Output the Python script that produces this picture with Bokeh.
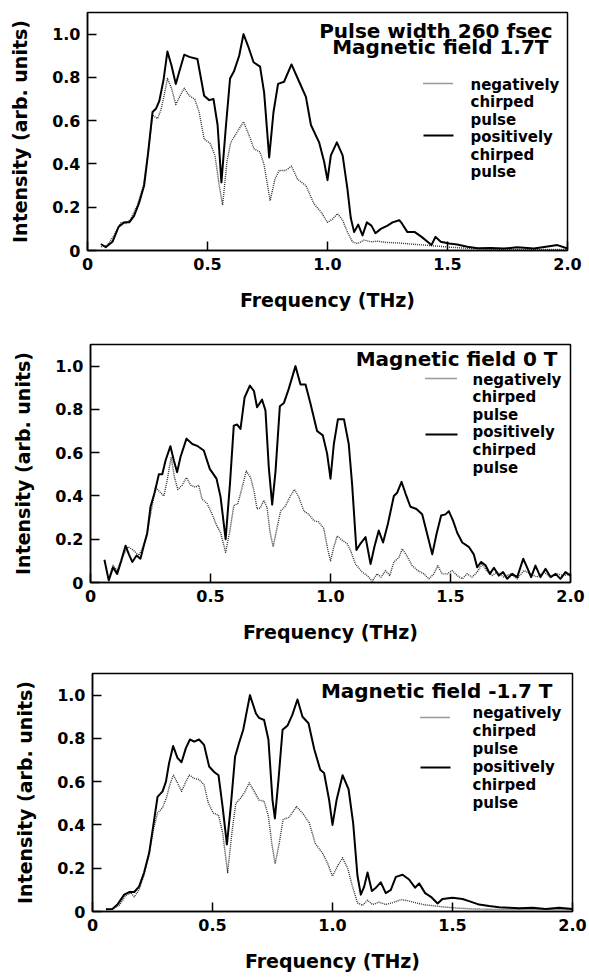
from bokeh.plotting import figure
from bokeh.layouts import column, row
from bokeh.models import Range1d, FixedTicker, Label, Arrow
from bokeh.embed import file_html
from bokeh.resources import INLINE

# ---------------- data ----------------
x_ticks = [0, 0.5, 1.0, 1.5, 2.0]
x_tick_labels = ["0", "0.5", "1.0", "1.5", "2.0"]
y_ticks = [0, 0.2, 0.4, 0.6, 0.8, 1.0]
y_tick_labels = ["0", "0.2", "0.4", "0.6", "0.8", "1.0"]

titles = [["Pulse width 260 fsec", "Magnetic field 1.7T"],
          ["Magnetic field 0 T"],
          ["Magnetic field -1.7 T"]]
neg_label = ["negatively", "chirped", "pulse"]
pos_label = ["positively", "chirped", "pulse"]

# Panel 1: 1.7 T
p1_pos_f = [0.056, 0.076, 0.104, 0.13, 0.153, 0.174, 0.194, 0.215, 0.236, 0.253, 0.271, 0.285, 0.299, 0.317, 0.333,
            0.35, 0.368, 0.382, 0.403, 0.424, 0.458, 0.486, 0.507, 0.525, 0.542, 0.558, 0.576, 0.594, 0.611, 0.632,
            0.65, 0.669, 0.692, 0.719, 0.736, 0.757, 0.775, 0.794, 0.819, 0.85, 0.882, 0.91, 0.931, 0.965, 0.986,
            1.0, 1.014, 1.039, 1.063, 1.083, 1.097, 1.111, 1.128, 1.146, 1.164, 1.183, 1.2, 1.222, 1.25, 1.271,
            1.299, 1.31, 1.333, 1.364, 1.392, 1.417, 1.433, 1.45, 1.472, 1.507, 1.54, 1.583, 1.625, 1.68, 1.736,
            1.79, 1.86, 1.924, 1.958, 2.0]
p1_pos_i = [0.03, 0.015, 0.04, 0.11, 0.13, 0.13, 0.16, 0.22, 0.30, 0.455, 0.64, 0.655, 0.69, 0.79, 0.92,
            0.855, 0.77, 0.825, 0.905, 0.895, 0.885, 0.715, 0.695, 0.70, 0.58, 0.315, 0.565, 0.795, 0.83, 0.90,
            1.0, 0.945, 0.87, 0.85, 0.73, 0.43, 0.64, 0.77, 0.78, 0.86, 0.78, 0.71, 0.58, 0.50, 0.41,
            0.325, 0.44, 0.50, 0.44, 0.285, 0.15, 0.085, 0.12, 0.07, 0.13, 0.115, 0.08, 0.10, 0.115, 0.13,
            0.14, 0.125, 0.085, 0.085, 0.063, 0.04, 0.025, 0.063, 0.04, 0.032, 0.028, 0.017, 0.01, 0.012, 0.009,
            0.015, 0.009, 0.02, 0.025, 0.009]
p1_neg_f = [0.056, 0.083, 0.111, 0.139, 0.16, 0.18, 0.208, 0.233, 0.253, 0.271, 0.292, 0.306, 0.319, 0.333, 0.35,
            0.368, 0.386, 0.403, 0.424, 0.447, 0.465, 0.486, 0.511, 0.531, 0.549, 0.563, 0.581, 0.597, 0.625, 0.65,
            0.674, 0.694, 0.719, 0.736, 0.761, 0.781, 0.799, 0.826, 0.85, 0.875, 0.91, 0.944, 0.972, 1.0,
            1.021, 1.042, 1.063, 1.083, 1.104, 1.125, 1.153, 1.181, 1.208, 1.25, 1.292, 1.347, 1.403, 1.458,
            1.514, 1.583, 1.694, 1.833, 2.0]
p1_neg_i = [0.017, 0.025, 0.07, 0.13, 0.125, 0.145, 0.21, 0.30, 0.455, 0.625, 0.61, 0.65, 0.715, 0.795, 0.75,
            0.675, 0.715, 0.75, 0.715, 0.70, 0.64, 0.515, 0.495, 0.44, 0.30, 0.21, 0.41, 0.50, 0.55, 0.595,
            0.53, 0.47, 0.455, 0.395, 0.23, 0.33, 0.37, 0.37, 0.39, 0.33, 0.30, 0.215, 0.18, 0.13,
            0.145, 0.17, 0.14, 0.085, 0.04, 0.032, 0.048, 0.04, 0.043, 0.037, 0.035, 0.03, 0.025, 0.02,
            0.015, 0.01, 0.006, 0.005, 0.005]

# Panel 2: 0 T
p2_pos_f = [0.058, 0.076, 0.094, 0.111, 0.128, 0.146, 0.16, 0.174, 0.192, 0.208, 0.222, 0.236, 0.25, 0.267, 0.285,
            0.299, 0.313, 0.333, 0.347, 0.361, 0.375, 0.4, 0.424, 0.447, 0.472, 0.497, 0.525, 0.542, 0.563, 0.581,
            0.597, 0.611, 0.625, 0.642, 0.664, 0.681, 0.694, 0.715, 0.729, 0.743, 0.757, 0.771, 0.789, 0.806, 0.826,
            0.854, 0.875, 0.896, 0.917, 0.944, 0.968, 0.986, 1.0, 1.014, 1.031, 1.056, 1.076, 1.09, 1.108, 1.125,
            1.146, 1.167, 1.183, 1.201, 1.219, 1.239, 1.264, 1.278, 1.296, 1.313, 1.333, 1.358, 1.382, 1.406, 1.424,
            1.442, 1.461, 1.479, 1.493, 1.511, 1.528, 1.549, 1.576, 1.597, 1.611, 1.628, 1.646, 1.664, 1.681, 1.701,
            1.719, 1.736, 1.757, 1.778, 1.803, 1.819, 1.836, 1.854, 1.875, 1.896, 1.917, 1.938, 1.958, 1.979, 2.0]
p2_pos_i = [0.105, 0.01, 0.07, 0.04, 0.10, 0.17, 0.13, 0.095, 0.125, 0.11, 0.17, 0.225, 0.35, 0.415, 0.50,
            0.50, 0.565, 0.63, 0.565, 0.51, 0.58, 0.665, 0.64, 0.63, 0.61, 0.525, 0.48, 0.395, 0.20, 0.455,
            0.725, 0.73, 0.71, 0.855, 0.91, 0.885, 0.81, 0.845, 0.795, 0.53, 0.36, 0.515, 0.815, 0.83, 0.895,
            1.0, 0.915, 0.915, 0.825, 0.70, 0.68, 0.595, 0.48, 0.64, 0.755, 0.755, 0.64, 0.455, 0.15, 0.18,
            0.21, 0.085, 0.165, 0.24, 0.185, 0.27, 0.40, 0.415, 0.465, 0.41, 0.35, 0.34, 0.315, 0.21, 0.13,
            0.225, 0.31, 0.315, 0.33, 0.285, 0.23, 0.185, 0.165, 0.13, 0.07, 0.095, 0.08, 0.04, 0.068, 0.032,
            0.048, 0.017, 0.04, 0.025, 0.11, 0.07, 0.025, 0.078, 0.025, 0.063, 0.025, 0.04, 0.017, 0.048, 0.032]
p2_neg_f = [0.076, 0.094, 0.111, 0.132, 0.156, 0.178, 0.201, 0.219, 0.236, 0.253, 0.271, 0.292, 0.306, 0.319, 0.336,
            0.35, 0.364, 0.382, 0.4, 0.417, 0.438, 0.451, 0.465, 0.486, 0.507, 0.525, 0.542, 0.563, 0.581, 0.597,
            0.614, 0.632, 0.649, 0.667, 0.681, 0.694, 0.708, 0.722, 0.736, 0.747, 0.761, 0.775, 0.792, 0.813, 0.833,
            0.85, 0.868, 0.889, 0.91, 0.931, 0.951, 0.972, 0.989, 1.0, 1.014, 1.028, 1.049, 1.069, 1.083, 1.104,
            1.132, 1.153, 1.174, 1.194, 1.211, 1.229, 1.247, 1.264, 1.285, 1.299, 1.317, 1.34, 1.364, 1.389, 1.41,
            1.431, 1.447, 1.465, 1.486, 1.507, 1.528, 1.549, 1.569, 1.59, 1.611, 1.632, 1.65, 1.674, 1.694, 1.722,
            1.75, 1.778, 1.806, 1.833, 1.861, 1.889, 1.917, 1.944, 1.972, 2.0]
p2_neg_i = [0.017, 0.08, 0.055, 0.115, 0.165, 0.15, 0.125, 0.165, 0.23, 0.33, 0.44, 0.415, 0.40, 0.47, 0.58,
            0.485, 0.43, 0.45, 0.485, 0.45, 0.44, 0.45, 0.385, 0.365, 0.315, 0.265, 0.23, 0.14, 0.24, 0.355,
            0.365, 0.44, 0.515, 0.485, 0.425, 0.34, 0.345, 0.38, 0.345, 0.24, 0.165, 0.24, 0.33, 0.355, 0.40,
            0.43, 0.395, 0.33, 0.315, 0.285, 0.28, 0.25, 0.15, 0.10, 0.165, 0.215, 0.195, 0.18, 0.15, 0.085,
            0.048, 0.032, 0.006, 0.04, 0.025, 0.055, 0.032, 0.095, 0.115, 0.155, 0.125, 0.078, 0.055, 0.04, 0.017,
            0.04, 0.078, 0.04, 0.04, 0.055, 0.032, 0.017, 0.04, 0.025, 0.048, 0.085, 0.055, 0.032, 0.048, 0.025,
            0.04, 0.017, 0.055, 0.04, 0.025, 0.048, 0.025, 0.04, 0.032, 0.04]

# Panel 3: -1.7 T
p3_pos_f = [0.056, 0.083, 0.104, 0.132, 0.153, 0.174, 0.194, 0.215, 0.236, 0.253, 0.271, 0.292, 0.306, 0.319, 0.336,
            0.354, 0.371, 0.389, 0.406, 0.424, 0.444, 0.465, 0.486, 0.507, 0.525, 0.542, 0.56, 0.576, 0.594, 0.611,
            0.628, 0.656, 0.681, 0.694, 0.715, 0.733, 0.75, 0.76, 0.775, 0.792, 0.813, 0.833, 0.854, 0.875, 0.9,
            0.924, 0.949, 0.965, 0.986, 1.0, 1.017, 1.042, 1.067, 1.086, 1.104, 1.118, 1.132, 1.146, 1.164, 1.181,
            1.201, 1.222, 1.243, 1.264, 1.292, 1.319, 1.344, 1.361, 1.386, 1.41, 1.438, 1.458, 1.5, 1.542, 1.569,
            1.611, 1.653, 1.694, 1.736, 1.778, 1.833, 1.889, 1.944, 2.0]
p3_pos_i = [0.01, 0.012, 0.032, 0.078, 0.09, 0.09, 0.115, 0.18, 0.27, 0.395, 0.53, 0.555, 0.60, 0.685, 0.765,
            0.71, 0.69, 0.755, 0.795, 0.785, 0.795, 0.77, 0.67, 0.645, 0.63, 0.485, 0.31, 0.485, 0.715, 0.78,
            0.84, 1.0, 0.915, 0.895, 0.885, 0.795, 0.515, 0.43, 0.61, 0.84, 0.86, 0.91, 0.98, 0.90, 0.87,
            0.75, 0.655, 0.64, 0.515, 0.40, 0.515, 0.63, 0.565, 0.41, 0.165, 0.078, 0.115, 0.18, 0.095, 0.11,
            0.135, 0.085, 0.10, 0.16, 0.17, 0.148, 0.11, 0.13, 0.085, 0.068, 0.037, 0.058, 0.063, 0.058, 0.048,
            0.032, 0.025, 0.02, 0.017, 0.015, 0.017, 0.012, 0.017, 0.012]
p3_neg_f = [0.056, 0.083, 0.111, 0.139, 0.16, 0.174, 0.194, 0.215, 0.236, 0.254, 0.271, 0.292, 0.308, 0.322, 0.337,
            0.354, 0.371, 0.389, 0.403, 0.424, 0.444, 0.465, 0.483, 0.503, 0.525, 0.542, 0.563, 0.581, 0.597, 0.618,
            0.636, 0.653, 0.674, 0.694, 0.715, 0.733, 0.747, 0.761, 0.778, 0.794, 0.819, 0.85, 0.875, 0.903, 0.928,
            0.958, 0.979, 1.0, 1.021, 1.042, 1.063, 1.083, 1.104, 1.125, 1.146, 1.167, 1.194, 1.222, 1.257, 1.285,
            1.313, 1.347, 1.389, 1.431, 1.472, 1.528, 1.583, 1.667, 1.778, 1.889, 2.0]
p3_neg_i = [0.01, 0.012, 0.028, 0.074, 0.086, 0.068, 0.10, 0.17, 0.265, 0.38, 0.455, 0.48, 0.525, 0.585, 0.63,
            0.595, 0.555, 0.60, 0.63, 0.615, 0.61, 0.585, 0.50, 0.455, 0.445, 0.365, 0.18, 0.365, 0.50, 0.525,
            0.555, 0.595, 0.555, 0.515, 0.51, 0.44, 0.315, 0.22, 0.315, 0.425, 0.435, 0.485, 0.455, 0.41, 0.315,
            0.27, 0.225, 0.163, 0.21, 0.248, 0.20, 0.117, 0.04, 0.028, 0.052, 0.032, 0.043, 0.032, 0.043, 0.055,
            0.05, 0.04, 0.03, 0.025, 0.02, 0.015, 0.012, 0.01, 0.01, 0.01, 0.01]

panels = [
    (p1_pos_f, p1_pos_i, p1_neg_f, p1_neg_i),
    (p2_pos_f, p2_pos_i, p2_neg_f, p2_neg_i),
    (p3_pos_f, p3_pos_i, p3_neg_f, p3_neg_i),
]

# ---------------- layout / style ----------------
FONT = "DejaVu Sans"
FW, FH = 480, 238
X_MAX, Y_MAX = 2.0, 1.1
DOT_COLOR = "#333333"

# per panel layout (pixels relative to the frame's top-left)
layouts = [
    dict(left=87, top=12, bottom=68, title_right=[465, 461], title_y=[18, 34.5],
         leg_x=383, leg_y=72, leg_dy=17.5, samp_x=(336, 366), samp_y=(71, 123)),
    dict(left=90, top=26, bottom=66, title_right=[467], title_y=[14.5],
         leg_x=382, leg_y=35, leg_dy=17.6, samp_x=(335, 367), samp_y=(34, 90)),
    dict(left=92, top=25, bottom=68, title_right=[460], title_y=[17],
         leg_x=380, leg_y=39, leg_dy=18, samp_x=(328, 358), samp_y=(44, 94)),
]


def dx(px):
    return px * X_MAX / FW


def dy(py):
    return (FH - py) * Y_MAX / FH


figs = []
for k, (pf, pi, nf, ni) in enumerate(panels):
    L = layouts[k]
    p = figure(frame_width=FW, frame_height=FH, output_backend="svg", toolbar_location=None,
               x_range=Range1d(0, X_MAX), y_range=Range1d(0, Y_MAX),
               min_border_left=L["left"], min_border_right=589 - L["left"] - FW,
               min_border_top=L["top"], min_border_bottom=L["bottom"])
    p.xgrid.visible = False
    p.ygrid.visible = False
    p.outline_line_color = "black"
    p.outline_line_width = 1.5
    p.background_fill_color = "white"
    p.border_fill_color = "white"

    p.xaxis.ticker = FixedTicker(ticks=x_ticks)
    p.yaxis.ticker = FixedTicker(ticks=y_ticks)
    p.xaxis.major_label_overrides = {t: s for t, s in zip(x_ticks, x_tick_labels)}
    p.yaxis.major_label_overrides = {t: s for t, s in zip(y_ticks, y_tick_labels)}
    for ax in (p.xaxis, p.yaxis):
        ax.major_tick_in = 9
        ax.major_tick_out = 0
        ax.minor_tick_line_color = None
        ax.major_tick_line_width = 1.5
        ax.axis_line_width = 1.5
        ax.axis_line_color = "black"
        ax.major_tick_line_color = "black"
        ax.major_label_text_font = FONT
        ax.major_label_text_font_style = "bold"
        ax.major_label_text_font_size = "16px"
        ax.major_label_text_color = "black"
        ax.axis_label_text_font = FONT
        ax.axis_label_text_font_style = "bold"
        ax.axis_label_text_font_size = "19px"
        ax.axis_label_text_color = "black"
    p.xaxis.axis_label = "Frequency (THz)"
    p.yaxis.axis_label = "Intensity (arb. units)"
    p.xaxis.major_label_standoff = 7
    p.yaxis.major_label_standoff = 7
    p.xaxis.axis_label_standoff = 16
    p.yaxis.axis_label_standoff = 18

    p.line(nf, ni, line_color=DOT_COLOR, line_width=1.4, line_dash="1 1", line_join="round")
    p.line(pf, pi, line_color="black", line_width=2, line_join="round")

    # titles
    for t, (txt, tr, ty) in enumerate(zip(titles[k], L["title_right"], L["title_y"])):
        p.add_layout(Label(x=dx(tr), y=dy(ty), text=txt, text_align="right", text_baseline="middle",
                           text_font=FONT, text_font_style="bold", text_font_size="20px", text_color="black"))
    # legend
    lines = neg_label + pos_label
    for j, txt in enumerate(lines):
        p.add_layout(Label(x=dx(L["leg_x"]), y=dy(L["leg_y"] + j * L["leg_dy"]), text=txt,
                           text_align="left", text_baseline="middle",
                           text_font=FONT, text_font_style="bold", text_font_size="15px", text_color="black"))
    sx0, sx1 = L["samp_x"]
    ny, py_ = L["samp_y"]
    p.add_layout(Arrow(x_start=dx(sx0), x_end=dx(sx1), y_start=dy(ny), y_end=dy(ny), end=None,
                       line_color=DOT_COLOR, line_width=1.4, line_dash="1 1"))
    p.add_layout(Arrow(x_start=dx(sx0), x_end=dx(sx1), y_start=dy(py_), y_end=dy(py_), end=None,
                       line_color="black", line_width=2))
    figs.append(p)

layout = column(*[row(f, spacing=0) for f in figs], spacing=0)
open("out.html", "w").write(file_html(layout, INLINE))
